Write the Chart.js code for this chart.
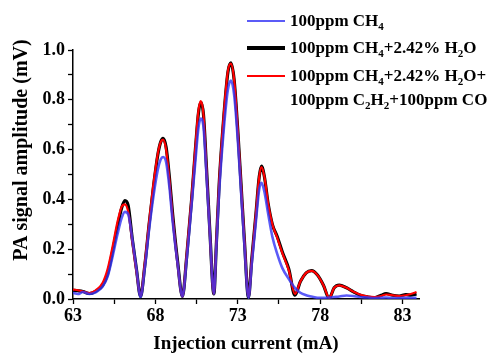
<!DOCTYPE html>
<html><head><meta charset="utf-8">
<script src="https://cdn.jsdelivr.net/npm/chart.js@4/dist/chart.umd.min.js"></script>
<style>
html,body{margin:0;padding:0;background:#fff;}
#wrap{position:relative;width:492px;height:354px;}
#c{position:absolute;left:0;top:0;}
#legend{position:absolute;left:0;top:0;width:492px;height:120px;font:bold 17px "Liberation Serif",serif;color:#000;}
.row{position:absolute;left:290px;white-space:nowrap;line-height:18px;}
.sw{position:absolute;left:247px;width:38px;}
sub{font-size:11px;vertical-align:baseline;position:relative;top:4px;}
</style></head>
<body>
<div id="wrap">
<canvas id="c" width="492" height="354"></canvas>
<div id="legend"></div>
</div>
<script>
// ---- data ----
const currents = [63, 63.3, 63.6, 64, 64.4, 64.8, 65.1, 65.4, 65.7, 65.95, 66.15, 66.35, 66.6, 66.85, 67.1, 67.35, 67.62, 67.9, 68.15, 68.32, 68.47, 68.65, 68.85, 69.05, 69.35, 69.64, 69.9, 70.2, 70.45, 70.62, 70.76, 70.92, 71.1, 71.3, 71.55, 71.7, 71.87, 72.15, 72.4, 72.58, 72.78, 73.0, 73.2, 73.4, 73.65, 73.85, 74.1, 74.3, 74.44, 74.62, 74.85, 75.1, 75.4, 75.7, 76.1, 76.47, 76.8, 77.15, 77.48, 77.85, 78.2, 78.55, 78.85, 79.16, 79.6, 80.0, 80.4, 80.9, 81.3, 81.7, 82.0, 82.4, 82.8, 83.2, 83.5, 83.85];
const ch4 = [0.025, 0.02, 0.028, 0.02, 0.028, 0.05, 0.09, 0.17, 0.26, 0.325, 0.35, 0.34, 0.24, 0.12, 0.008, 0.12, 0.28, 0.42, 0.52, 0.56, 0.57, 0.55, 0.45, 0.31, 0.14, 0.01, 0.16, 0.38, 0.57, 0.69, 0.725, 0.69, 0.5, 0.27, 0.02, 0.21, 0.43, 0.68, 0.84, 0.877, 0.82, 0.64, 0.43, 0.22, 0.005, 0.14, 0.31, 0.44, 0.467, 0.43, 0.34, 0.25, 0.18, 0.125, 0.08, 0.045, 0.025, 0.015, 0.01, 0.005, 0.005, 0.006, 0.008, 0.01, 0.014, 0.012, 0.008, 0.006, 0.004, 0.005, 0.006, 0.004, 0.004, 0.005, 0.004, 0.005];
const ch4H2O = [0.035, 0.033, 0.03, 0.022, 0.032, 0.055, 0.10, 0.19, 0.29, 0.365, 0.395, 0.375, 0.24, 0.12, 0.01, 0.13, 0.30, 0.46, 0.58, 0.63, 0.645, 0.61, 0.49, 0.34, 0.15, 0.01, 0.17, 0.40, 0.62, 0.75, 0.79, 0.74, 0.53, 0.28, 0.02, 0.22, 0.46, 0.73, 0.91, 0.948, 0.88, 0.68, 0.46, 0.24, 0.005, 0.16, 0.34, 0.49, 0.534, 0.49, 0.38, 0.30, 0.25, 0.19, 0.12, 0.015, 0.07, 0.105, 0.114, 0.095, 0.055, 0.003, 0.045, 0.056, 0.045, 0.03, 0.016, 0.008, 0.005, 0.015, 0.022, 0.015, 0.012, 0.018, 0.015, 0.02];
const ch4H2OMix = [0.038, 0.035, 0.03, 0.024, 0.036, 0.065, 0.12, 0.21, 0.31, 0.37, 0.38, 0.35, 0.23, 0.11, 0.012, 0.14, 0.31, 0.47, 0.585, 0.63, 0.64, 0.6, 0.48, 0.33, 0.14, 0.01, 0.18, 0.41, 0.63, 0.76, 0.795, 0.74, 0.52, 0.27, 0.02, 0.23, 0.47, 0.74, 0.915, 0.945, 0.88, 0.68, 0.46, 0.24, 0.008, 0.16, 0.345, 0.49, 0.53, 0.49, 0.38, 0.30, 0.245, 0.185, 0.115, 0.02, 0.07, 0.105, 0.113, 0.095, 0.055, 0.005, 0.045, 0.055, 0.045, 0.03, 0.018, 0.01, 0.008, 0.012, 0.018, 0.015, 0.012, 0.015, 0.02, 0.028];
const xTickValues = [63, 65.5, 68, 70.5, 73, 75.5, 78, 80.5, 83];
const xTickLabels = ['63', '', '68', '', '73', '', '78', '', '83'];
const yTickValues = [0, 0.1, 0.2, 0.3, 0.4, 0.5, 0.6, 0.7, 0.8, 0.9, 1.0];
const yTickLabels = ['0.0', '', '0.2', '', '0.4', '', '0.6', '', '0.8', '', '1.0'];
const seriesNames = ['100ppm CH₄', '100ppm CH₄+2.42% H₂O', '100ppm CH₄+2.42% H₂O+100ppm C₂H₂+100ppm CO'];
const xTitle = 'Injection current (mA)';
const yTitle = 'PA signal amplitude (mV)';

const FONT = '"Liberation Serif", "Times New Roman", serif';
const colBlue = 'rgba(55,55,245,0.82)', colBlack = '#000000', colRed = '#ff0000';

function pts(ys){ return currents.map((x,i)=>({x:x, y:ys[i]})); }

const yTitlePlugin = {
  id:'yTitle',
  afterDraw(chart){
    const ctx = chart.ctx;
    ctx.save();
    ctx.translate(22, 150);
    ctx.rotate(-Math.PI/2);
    ctx.font = 'bold 20px ' + FONT;
    ctx.fillStyle = '#000';
    ctx.textAlign = 'center';
    ctx.textBaseline = 'middle';
    ctx.fillText(yTitle, 0, 0);
    ctx.restore();
  }
};

new Chart(document.getElementById('c'), {
  type:'line',
  data:{datasets:[
    {label:seriesNames[0], data:pts(ch4), borderColor:colBlue, borderWidth:2.6},
    {label:seriesNames[2], data:pts(ch4H2OMix), borderColor:colRed, borderWidth:2.2},
    {label:seriesNames[1], data:pts(ch4H2O), borderColor:colBlack, borderWidth:3.2}
  ]},
  options:{
    responsive:false, animation:false,
    layout:{padding:{top:50,right:73,bottom:0,left:0}},
    elements:{point:{radius:0}, line:{cubicInterpolationMode:'monotone', fill:false}},
    plugins:{legend:{display:false}, tooltip:{enabled:false}},
    scales:{
      x:{type:'linear', min:63, max:84,
        afterBuildTicks:s=>{ s.ticks = xTickValues.map(v=>({value:v})); },
        afterFit:s=>{ s.height = 55; },
        ticks:{autoSkip:false, maxRotation:0, padding:2, color:'#000', font:{family:FONT, size:18, weight:'bold'},
          callback:(v,i)=>xTickLabels[i]},
        grid:{drawOnChartArea:false, tickLength:5, color:'#000', tickWidth:1.3},
        border:{color:'#000', width:1.5},
        title:{display:true, text:xTitle, color:'#000', font:{family:FONT, size:19, weight:'bold', lineHeight:1}, padding:{top:0,bottom:0}}
      },
      y:{min:0, max:1,
        afterBuildTicks:s=>{ s.ticks = yTickValues.map(v=>({value:v})); },
        afterFit:s=>{ s.width = 73; },
        ticks:{autoSkip:false, padding:3, color:'#000', font:{family:FONT, size:18, weight:'bold'},
          callback:(v,i)=>yTickLabels[i]},
        grid:{drawOnChartArea:false, tickLength:5, color:'#000', tickWidth:1.3},
        border:{color:'#000', width:1.5}
      }
    }
  },
  plugins:[yTitlePlugin]
});

// HTML legend with real subscripts
const legendRows = [
  {top:12, color:colBlue, w:2.5, html:'100ppm CH<sub>4</sub>'},
  {top:39, color:colBlack, w:3.2, html:'100ppm CH<sub>4</sub>+2.42% H<sub>2</sub>O'},
  {top:67, color:colRed, w:2, html:'100ppm CH<sub>4</sub>+2.42% H<sub>2</sub>O+'},
  {top:91, color:null, w:0, html:'100ppm C<sub>2</sub>H<sub>2</sub>+100ppm CO'}
];
const lg = document.getElementById('legend');
legendRows.forEach(r=>{
  const t = document.createElement('div'); t.className='row'; t.style.top = r.top+'px'; t.innerHTML = r.html; lg.appendChild(t);
  if (r.color){
    const s = document.createElement('div'); s.className='sw';
    s.style.top = (r.top + 9 - r.w/2) + 'px'; s.style.height = r.w+'px'; s.style.background = r.color; lg.appendChild(s);
  }
});
</script>
</body></html>
